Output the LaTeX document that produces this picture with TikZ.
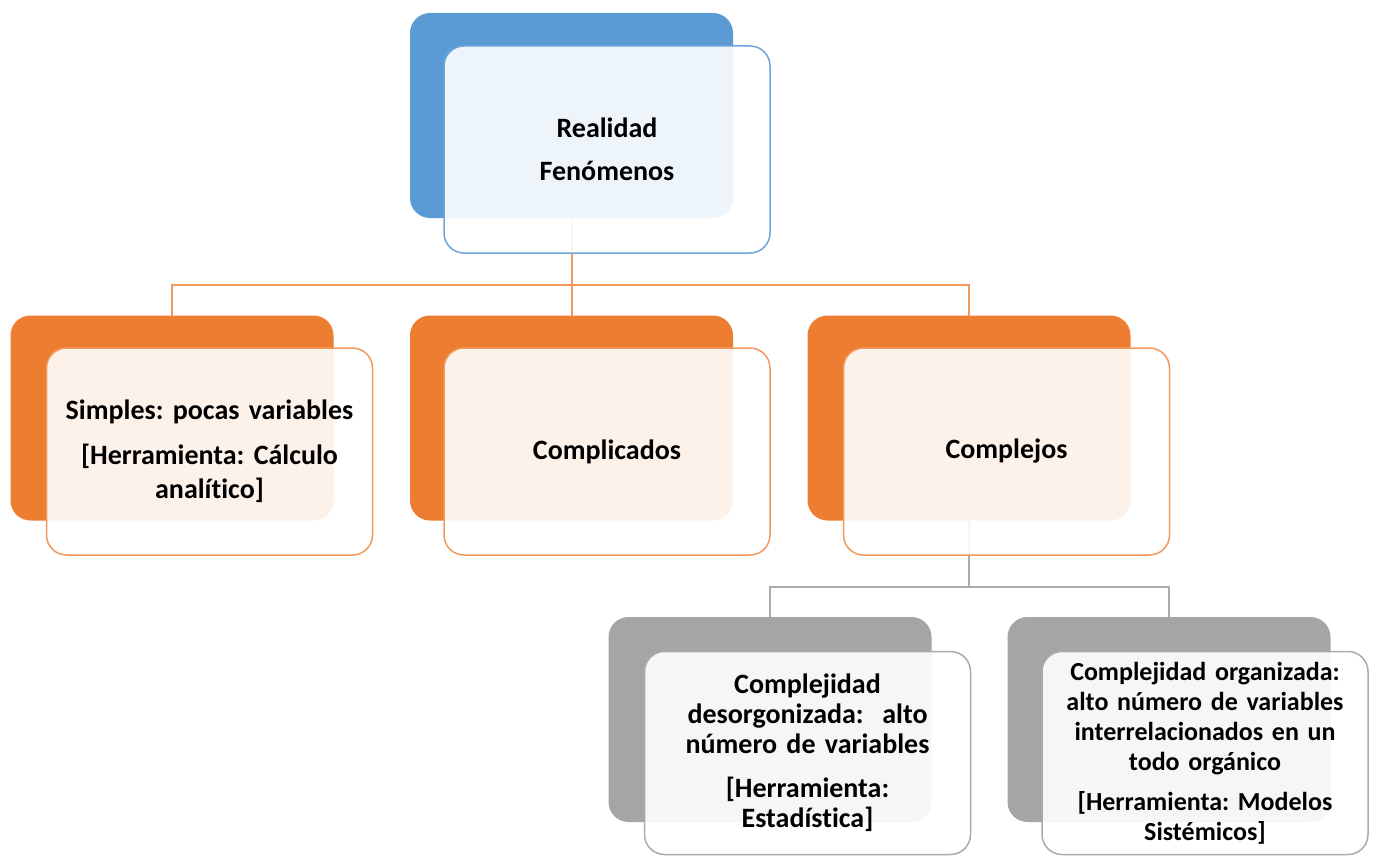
\documentclass[tikz,border=0pt]{standalone}
\usepackage{fontspec}
\setmainfont{Carlito}[Ligatures={NoCommon}]
\begin{document}
\frenchspacing
\begin{tikzpicture}[x=1pt,y={(0pt,-1pt)},
  backbox/.style={rounded corners=20pt, minimum width=323pt, minimum height=205pt, inner sep=0pt, outer sep=0pt},
  frontbox/.style={rounded corners=20pt, minimum width=326pt, minimum height=205pt, inner sep=0pt, outer sep=0pt,
     fill=white, fill opacity=0.9, text opacity=1, line width=1.5pt, align=center, text width=320pt,
     font=\bfseries\fontsize{28}{34}\selectfont},
  rowthree/.style={font=\bfseries\fontsize{28}{30}\selectfont},
  rowthreesmall/.style={font=\bfseries\fontsize{26}{30}\selectfont},
  bluelink/.style={draw=orangeline, line width=2pt},
  greylink/.style={draw=greyline, line width=2pt}
]
\definecolor{bluefill}{HTML}{5B9BD5}
\definecolor{blueline}{HTML}{6FA5DA}
\definecolor{orangefill}{HTML}{ED7D31}
\definecolor{orangeline}{HTML}{F29A5E}
\definecolor{greyfill}{HTML}{A5A5A5}
\definecolor{greyline}{HTML}{ABABAB}
\useasboundingbox (0,0) rectangle (1375,856);

% back boxes
\node[backbox, fill=bluefill] (rb) at (571.5,115.5) {};
\node[backbox, fill=orangefill] (b1) at (172,418) {};
\node[backbox, fill=orangefill] (b2) at (571.5,418) {};
\node[backbox, fill=orangefill] (b3) at (969,418) {};
\node[backbox, fill=greyfill] (b4) at (770,719.5) {};
\node[backbox, fill=greyfill] (b5) at (1169,719.5) {};

% connectors
\coordinate (bus1) at (571.5,285);
\coordinate (bus2) at (969,587);
\draw[bluelink] (rb.south) -- (bus1);
\draw[bluelink] (bus1) -| (b1.north);
\draw[bluelink] (bus1) -- (b2.north);
\draw[bluelink] (bus1) -| (b3.north);
\draw[greylink] (b3.south) -- (bus2);
\draw[greylink] (bus2) -| (b4.north);
\draw[greylink] (bus2) -| (b5.north);

% front boxes
\node[frontbox, draw=blueline, minimum height=207pt] (rf) at (607,149.5) {Realidad\\[9pt]Fenómenos};
\node[frontbox, draw=orangeline, minimum height=207pt] (f1) at (209.5,451.5) {Simples: pocas variables\\[11pt][Herramienta: Cálculo\\analítico]};
\node[frontbox, draw=orangeline, minimum height=207pt] (f2) at (607,451.5) {Complicados};
\node[frontbox, draw=orangeline, minimum height=207pt] (f3) at (1006.5,451.5) {Complejos};
\node[frontbox, rowthree, draw=greyline, minimum height=203pt] (f4) at (807.5,753) {Complejidad\\desorgonizada:\ \ alto\\número de variables\\[14pt][Herramienta:\\Estadística]};
\node[frontbox, rowthreesmall, draw=greyline, minimum height=203pt] (f5) at (1205,753) {Complejidad organizada:\\alto número de variables\\interrelacionados en un\\todo orgánico\\[10pt][Herramienta: Modelos\\Sistémicos]};
\end{tikzpicture}
\end{document}
